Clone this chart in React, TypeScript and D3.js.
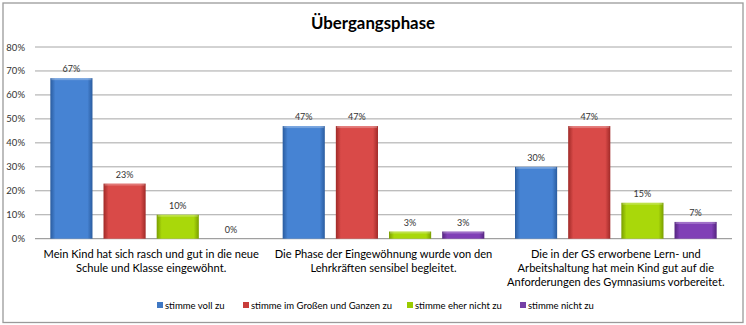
import React from "react";
import * as d3 from "d3";

const title = "Übergangsphase";
const categories = [
  ["Mein Kind hat sich rasch und gut in die neue", "Schule und Klasse eingewöhnt."],
  ["Die Phase der Eingewöhnung wurde von den", "Lehrkräften sensibel begleitet."],
  ["Die in der GS erworbene Lern- und", "Arbeitshaltung hat mein Kind gut auf die", "Anforderungen des Gymnasiums vorbereitet."],
];
const seriesNames = ["stimme voll zu", "stimme im Großen und Ganzen zu", "stimme eher nicht zu", "stimme nicht zu"];
const voll = [67, 47, 30];
const grossen = [23, 47, 47];
const eherNicht = [10, 3, 15];
const nicht = [0, 3, 7];
const seriesValues = [voll, grossen, eherNicht, nicht];
const yTicks = [0, 10, 20, 30, 40, 50, 60, 70, 80];

const colors = [
  { mid: "#4683d3", edge: "#2a5c9f" },
  { mid: "#d94a48", edge: "#a02a28" },
  { mid: "#a9d80a", edge: "#7a9e00" },
  { mid: "#8040b6", edge: "#54247f" },
];
const legendSwatch = ["#3f78c4", "#c83c3a", "#9acb00", "#7540a6"];

const W = 746, H = 325;
const left = 35, right = 732, top = 47, bottom = 238.7;
const font = "Lato, 'Open Sans', 'DejaVu Sans', sans-serif";

export default function App() {
  const y = d3.scaleLinear().domain([0, 80]).range([bottom, top]);
  const x0 = d3.scaleBand<number>().domain(categories.map((_, i) => i)).range([left, right]);
  const cw = x0.bandwidth();
  const x1 = d3.scaleBand<number>().domain(seriesNames.map((_, i) => i)).range([cw * 0.066, cw * 0.934]).paddingInner(0.2075);
  const bw = x1.bandwidth();
  const legendX = [157, 243, 407, 520];

  return (
    <svg width={W} height={H} style={{ position: "absolute", left: 0, top: 0, display: "block" }} fontFamily={font}>
      <defs>
        {colors.map((c, i) => (
          <linearGradient key={i} id={`g${i}`} x1="0" x2="1" y1="0" y2="0">
            <stop offset="0" stopColor={c.edge} />
            <stop offset="0.12" stopColor={c.mid} />
            <stop offset="0.88" stopColor={c.mid} />
            <stop offset="1" stopColor={c.edge} />
          </linearGradient>
        ))}
      </defs>
      <rect x={0} y={0} width={W} height={H} fill="#ffffff" />
      <rect x={3} y={3} width={740} height={319.5} fill="#ffffff" stroke="#9a9a9a" strokeWidth={1.3} />
      <text x={373} y={29} textAnchor="middle" fontSize={17} fontWeight="bold" fill="#000" textLength={124} lengthAdjust="spacingAndGlyphs">{title}</text>
      {yTicks.map((t) => (
        <g key={t}>
          <line x1={left} x2={right} y1={y(t)} y2={y(t)} stroke={t === 0 ? "#8a8a8a" : "#a6a6a6"} strokeWidth={1} />
          <text x={25} y={y(t) + 3.5} textAnchor="end" fontSize={9.5} fill="#333">{t}%</text>
        </g>
      ))}
      {categories.map((cat, ci) => (
        <g key={ci} transform={`translate(${x0(ci)},0)`}>
          {seriesValues.map((vals, si) => {
            const v = vals[ci];
            const bx = x1(si)!;
            const by = y(v);
            return (
              <g key={si}>
                {v > 0 && (
                  <g>
                    <rect x={bx} y={by} width={bw} height={y(0) - by} fill={`url(#g${si})`} />
                    <rect x={bx + 1} y={by} width={bw - 2} height={2} fill="#ffffff" opacity={0.25} />
                  </g>
                )}
                <text x={bx + bw / 2} y={by - 6} textAnchor="middle" fontSize={9} fill="#333">{v}%</text>
              </g>
            );
          })}
          {cat.map((line, li) => (
            <text key={li} x={cw / 2} y={258 + li * 14} textAnchor="middle" fontSize={11.1} fill="#000">{line}</text>
          ))}
        </g>
      ))}
      {seriesNames.map((n, i) => (
        <g key={n}>
          <rect x={legendX[i]} y={302} width={6} height={6} fill={legendSwatch[i]} />
          <text x={legendX[i] + 8} y={309} fontSize={9.5} fill="#000">{n}</text>
        </g>
      ))}
    </svg>
  );
}
